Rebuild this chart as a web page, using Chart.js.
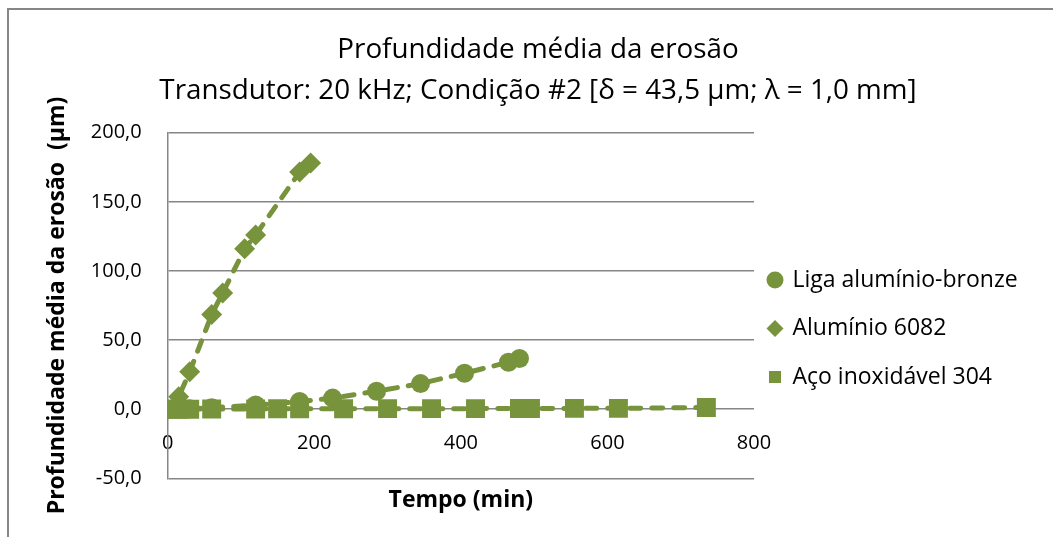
<!DOCTYPE html>
<html lang="pt">
<head>
    <meta charset="UTF-8">
    <title>Profundidade média da erosão</title>
    <script src="https://cdn.jsdelivr.net/npm/chart.js"></script>
    <style>
        html, body {
            margin: 0;
            padding: 0;
            background: #fff;
            overflow: hidden;
        }

        .frame {
            position: absolute;
            left: 7px;
            top: 8px;
            width: 1058px;
            height: 527px;
            border-left: 2px solid #868686;
            border-top: 2px solid #868686;
        }

        canvas {
            display: block;
        }
    </style>
</head>
<body>
    <div class="frame">
        <canvas id="erosionChart" width="1058" height="527"></canvas>
    </div>

    <script>
        // series names (legend order)
        const seriesNames = ['Liga alumínio-bronze', 'Alumínio 6082', 'Aço inoxidável 304'];

        // Liga alumínio-bronze
        const bronzeTime = [0, 15, 30, 60, 120, 180, 225, 285, 345, 405, 465, 480];
        const bronzeDepth = [0, 0, 0.3, 1, 3, 5.5, 8, 13, 18.5, 26, 34, 36.7];

        // Alumínio 6082
        const aluTime = [0, 15, 30, 60, 75, 105, 120, 180, 195];
        const aluDepth = [0, 9, 27, 68.5, 84, 116, 126, 171.5, 178];

        // Aço inoxidável 304
        const steelTime = [0, 15, 30, 60, 120, 150, 180, 240, 300, 360, 420, 480, 495, 555, 615, 735];
        const steelDepth = [0, 0, 0, 0.2, 0.2, 0.3, 0.3, 0.3, 0.4, 0.4, 0.4, 0.5, 0.5, 0.6, 0.6, 1.2];

        // axis ticks
        const xTickValues = [0, 200, 400, 600, 800];
        const yTickValues = [-50, 0, 50, 100, 150, 200];

        const green = '#77933C';
        const grey = '#868686';
        const fontFamily = '"Open Sans", "Noto Sans", sans-serif';

        const toPoints = (xs, ys) => xs.map((x, i) => ({ x: x, y: ys[i] }));

        // legend takes a fixed strip on the right so the plot ends where Excel's does
        const legendBoxWidth = 313;
        const legendPad = 25.5;
        const legendLayout = {
            id: 'legendLayout',
            beforeLayout(chart) {
                const lg = chart.legend;
                if (lg && !lg.fixedFit) {
                    const baseFit = lg.fit;
                    lg.fit = function () {
                        baseFit.call(this);
                        this.width = legendBoxWidth;
                    };
                    lg.fixedFit = true;
                }
            },
            afterLayout(chart) {
                const lg = chart.legend;
                lg.left -= 10.5;
                lg.right -= 10.5;
                lg.top += 23;
                lg.bottom += 23;
            }
        };

        const lineStyle = {
            borderColor: green,
            backgroundColor: green,
            pointBackgroundColor: green,
            pointBorderWidth: 0,
            borderWidth: 5,
            borderDash: [11, 11],
            borderCapStyle: 'round',
            fill: false,
            tension: 0
        };

        const ctx = document.getElementById('erosionChart').getContext('2d');
        const erosionChart = new Chart(ctx, {
            type: 'line',
            data: {
                datasets: [
                    Object.assign({
                        label: seriesNames[0],
                        data: toPoints(bronzeTime, bronzeDepth),
                        pointStyle: 'circle',
                        pointRadius: 9.5,
                        order: 2
                    }, lineStyle),
                    Object.assign({
                        label: seriesNames[1],
                        data: toPoints(aluTime, aluDepth),
                        pointStyle: 'rectRot',
                        pointRadius: 10.5,
                        order: 1
                    }, lineStyle),
                    Object.assign({
                        label: seriesNames[2],
                        data: toPoints(steelTime, steelDepth),
                        pointStyle: 'rect',
                        pointRadius: 13.4,
                        order: 0
                    }, lineStyle)
                ]
            },
            options: {
                responsive: false,
                animation: false,
                layout: {
                    padding: 0
                },
                scales: {
                    x: {
                        type: 'linear',
                        position: { y: 0 },
                        min: 0,
                        max: 800,
                        afterBuildTicks: s => { s.ticks = xTickValues.map(v => ({ value: v })); },
                        grid: { display: false, drawTicks: false },
                        border: { display: false },
                        ticks: {
                            padding: 22,
                            color: '#000',
                            font: { family: fontFamily, size: 20 },
                            maxRotation: 0
                        }
                    },
                    x2: {
                        type: 'linear',
                        position: 'bottom',
                        min: 0,
                        max: 800,
                        grid: { display: false, drawTicks: false },
                        border: { display: false },
                        ticks: { display: false },
                        title: {
                            display: true,
                            text: 'Tempo (min)',
                            color: '#000',
                            font: { family: fontFamily, size: 23, weight: 'bold' },
                            padding: { top: 7.9, bottom: 23.2 }
                        }
                    },
                    y: {
                        type: 'linear',
                        position: 'left',
                        min: -50,
                        max: 200,
                        afterBuildTicks: s => { s.ticks = yTickValues.map(v => ({ value: v })); },
                        afterFit: s => { s.width = 158.7; },
                        grid: { color: grey, lineWidth: 1.5, drawTicks: false },
                        border: { color: grey, width: 1.5 },
                        ticks: {
                            padding: 26,
                            color: '#000',
                            font: { family: fontFamily, size: 20 },
                            callback: v => v.toFixed(1).replace('.', ',')
                        },
                        title: {
                            display: true,
                            text: 'Profundidade média da erosão  (µm)',
                            color: '#000',
                            font: { family: fontFamily, size: 23, weight: 'bold' },
                            padding: { top: 34.2, bottom: 0 }
                        }
                    }
                },
                plugins: {
                    title: {
                        display: true,
                        text: ['Profundidade média da erosão', 'Transdutor: 20 kHz; Condição #2 [δ = 43,5 µm; λ = 1,0 mm]'],
                        color: '#000',
                        font: { family: fontFamily, size: 27.8, weight: 'normal', lineHeight: 1.475 },
                        padding: { top: 19.5, bottom: 21.2 }
                    },
                    legend: {
                        position: 'right',
                        fullSize: false,
                        labels: {
                            usePointStyle: true,
                            boxWidth: 12,
                            boxHeight: 12,
                            padding: legendPad,
                            color: '#000',
                            font: { family: fontFamily, size: 23 },
                            sort: (a, b) => a.datasetIndex - b.datasetIndex
                        }
                    },
                    tooltip: { enabled: false }
                }
            },
            plugins: [legendLayout]
        });
    </script>
</body>
</html>
